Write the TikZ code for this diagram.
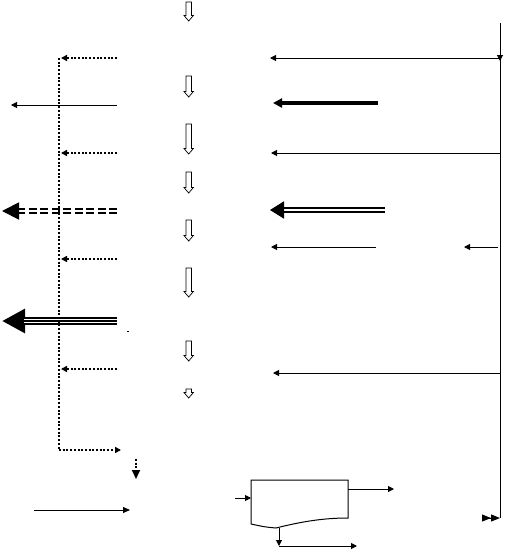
\documentclass[tikz,border=0pt]{standalone}
\usepackage{tikz}
\usetikzlibrary{arrows.meta}

\begin{document}
\begin{tikzpicture}[
        x=1pt, y=-1pt,
        >={Triangle[length=6pt,width=6pt]},
        line/.style={line width=1pt},
        dots/.style={line width=2pt, dash pattern=on 2pt off 1.7pt},
        heavy/.style={line width=3.2pt, -{Triangle[length=9pt,width=9pt]}},
        twin/.style={double, line width=1.9pt, double distance=1.6pt,
            -{Triangle[length=14pt,width=17pt]}},
        triple/.style={line width=8pt, -{Triangle[length=23pt,width=23pt]},
            postaction={draw, white, line width=4.6pt, arrows=-, shorten >=22pt},
            postaction={draw, black, line width=1.6pt, arrows=-, shorten >=22pt}},
        block/.style={draw, line width=0.7pt, fill=white}
    ]
    \useasboundingbox (0,0) rectangle (506,552);

    % hollow arrows down the middle
    \foreach \ya/\yb in {2/21, 76/97, 124/154, 172/193, 220/241, 268/297, 341/361, 389/398}
        \draw[block] (186,\ya) -- (191.5,\ya) -- (191.5,\yb-5.5) -- (193.4,\yb-5.5)
            -- (188.7,\yb) -- (184,\yb-5.5) -- (186,\yb-5.5) -- cycle;

    % right spine
    \coordinate (rt) at (500,23);
    \coordinate (r1) at (500,58);
    \coordinate (r1d) at (500,61);
    \coordinate (r3) at (500,153);
    \coordinate (r7) at (500,373);
    \coordinate (rb) at (500,518);
    \coordinate (a1) at (270,58);
    \coordinate (h2s) at (378,103);
    \coordinate (h2) at (273,103);
    \coordinate (a3) at (271,153);
    \coordinate (w4s) at (385,210);
    \coordinate (w4) at (270,210);
    \coordinate (a5s) at (376,247);
    \coordinate (a5) at (271,247);
    \coordinate (b5s) at (498,247);
    \coordinate (b5) at (464,247);
    \coordinate (a7) at (273,373);
    \coordinate (ff) at (482,518);

    % left spine
    \coordinate (lt) at (59,58);
    \coordinate (lb) at (59,450);
    \coordinate (lo) at (121,450);
    \coordinate (d1s) at (117,58);
    \coordinate (d1) at (61,58);
    \coordinate (s2s) at (117,105);
    \coordinate (s2) at (11,105);
    \coordinate (d3s) at (117,153);
    \coordinate (d3) at (61,153);
    \coordinate (w4l) at (117,211);
    \coordinate (w4e) at (2,211);
    \coordinate (d5s) at (117,259);
    \coordinate (d5) at (61,259);
    \coordinate (t6s) at (117,321);
    \coordinate (t6) at (2,321);
    \coordinate (d7s) at (117,369);
    \coordinate (d7) at (61,369);
    \coordinate (vs) at (136,459);
    \coordinate (ve) at (136,479);
    \coordinate (ins) at (34,510);
    \coordinate (ine) at (130,510);

    % process box
    \coordinate (pin) at (251,498);
    \coordinate (pins) at (235,498);
    \coordinate (pout) at (348,489);
    \coordinate (pouts) at (394,489);
    \coordinate (pdn) at (279,528);
    \coordinate (pdne) at (279,546);
    \coordinate (pre) at (357,546);
    \draw[line] (251,480) -- (348,480) -- (348,518)
        .. controls (322,518) and (300,522) .. (276,528)
        .. controls (265,527) .. (251,524) -- cycle;

    \path[line]
        (rt) edge[->] (r1d)
        (r1) edge (rb)
        (r1) edge[->] (a1)
        (h2s) edge[heavy] (h2)
        (r3) edge[->] (a3)
        (w4s) edge[twin] (w4)
        (a5s) edge[->] (a5)
        (b5s) edge[->] (b5)
        (r7) edge[->] (a7)
        (ff) edge[-{Triangle[length=9pt,width=7pt]Triangle[length=9pt,width=7pt]}] (rb)

        (s2s) edge[->] (s2)
        (w4l) edge[twin, dash pattern=on 8pt off 3.5pt, -{Triangle[length=17pt,width=17pt]}] (w4e)
        (t6s) edge[triple] (t6)
        (ins) edge[->, -{Triangle[length=7pt,width=6pt]}] (ine)

        (pins) edge[->] (pin)
        (pout) edge[->] (pouts)
        (pdn) edge[->] (pdne)
        (pdne) edge[->] (pre);

    \draw[dots] (lt) -- (lb);
    \path[dots]
        (lb) edge[->] (lo)
        (d1s) edge[->] (d1)
        (d3s) edge[->] (d3)
        (d5s) edge[->] (d5)
        (d7s) edge[->] (d7)
        (vs) edge[-{Triangle[length=9pt,width=8pt]}] (ve);

    \fill (127,331) rectangle (129,332.2);
\end{tikzpicture}
\end{document}
